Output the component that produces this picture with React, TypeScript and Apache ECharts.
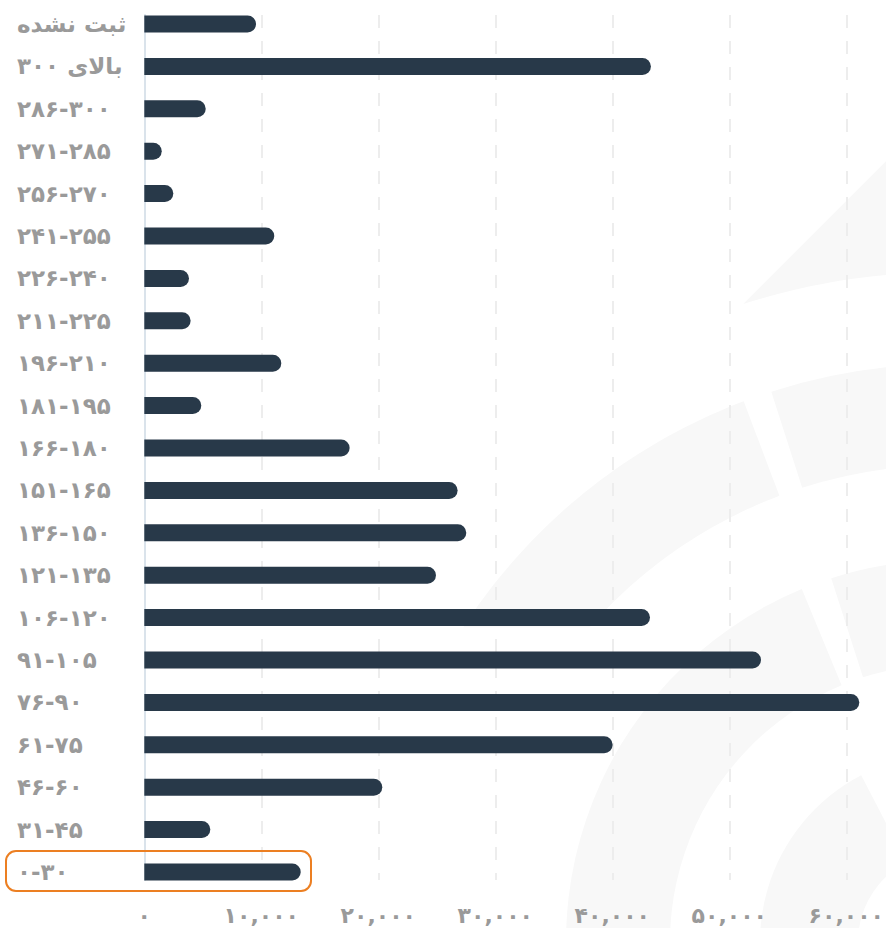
import React, { useEffect, useRef } from "react";
import * as echarts from "echarts";

const categories = [
  "ثبت نشده",
  "بالای ۳۰۰",
  "۲۸۶-۳۰۰",
  "۲۷۱-۲۸۵",
  "۲۵۶-۲۷۰",
  "۲۴۱-۲۵۵",
  "۲۲۶-۲۴۰",
  "۲۱۱-۲۲۵",
  "۱۹۶-۲۱۰",
  "۱۸۱-۱۹۵",
  "۱۶۶-۱۸۰",
  "۱۵۱-۱۶۵",
  "۱۳۶-۱۵۰",
  "۱۲۱-۱۳۵",
  "۱۰۶-۱۲۰",
  "۹۱-۱۰۵",
  "۷۶-۹۰",
  "۶۱-۷۵",
  "۴۶-۶۰",
  "۳۱-۴۵",
  "۰-۳۰",
];

const values = [
  9550, 43300, 5250, 1490, 2480, 11110, 3820, 3960, 11710, 4870, 17550, 26780,
  27520, 24930, 43220, 52710, 61110, 40030, 20340, 5640, 13370,
];

const xTickLabels = [
  "۰",
  "۱۰,۰۰۰",
  "۲۰,۰۰۰",
  "۳۰,۰۰۰",
  "۴۰,۰۰۰",
  "۵۰,۰۰۰",
  "۶۰,۰۰۰",
];

const FONT = "'DejaVu Sans', 'Noto Sans', sans-serif";
const BAR = "#283949";
const WM = "#f8f8f8";

function arcPts(cx: number, cy: number, r: number, a0: number, a1: number, n = 40) {
  const pts: number[][] = [];
  for (let i = 0; i <= n; i++) {
    const a = ((a0 + ((a1 - a0) * i) / n) * Math.PI) / 180;
    pts.push([cx + r * Math.cos(a), cy + r * Math.sin(a)]);
  }
  return pts;
}

function watermark() {
  const cx = 948;
  const cy = 942;
  const rad = (d: number) => (d * Math.PI) / 180;
  const gap = 252.2;
  const els: any[] = [];
  const tip = arcPts(cx, cy, 670, gap, gap, 1)[0];
  const b1 = arcPts(cx, cy, 670, gap, 278, 30);
  const far = 1040;
  b1.push([far, tip[1] - (far - tip[0])]);
  els.push({ type: "polygon", z: -10, silent: true, shape: { points: b1 }, style: { fill: WM } });
  const b2 = arcPts(cx, cy, 578, 213, 249.3, 40).concat(arcPts(cx, cy, 477, 249.3, 221.3, 40));
  els.push({ type: "polygon", z: -10, silent: true, shape: { points: b2 }, style: { fill: WM } });
  els.push({
    type: "sector", z: -10, silent: true,
    shape: { cx, cy, r: 578, r0: 477, startAngle: rad(gap), endAngle: rad(300), clockwise: true },
    style: { fill: WM },
  });
  els.push({
    type: "sector", z: -10, silent: true,
    shape: { cx, cy, r: 382, r0: 278, startAngle: rad(150), endAngle: rad(247.5), clockwise: true },
    style: { fill: WM },
  });
  els.push({
    type: "sector", z: -10, silent: true,
    shape: { cx, cy, r: 382, r0: 278, startAngle: rad(gap), endAngle: rad(320), clockwise: true },
    style: { fill: WM },
  });
  els.push({
    type: "sector", z: -10, silent: true,
    shape: { cx, cy, r: 188, r0: 90, startAngle: rad(150), endAngle: rad(242.5), clockwise: true },
    style: { fill: WM },
  });
  els.push({
    type: "sector", z: -10, silent: true,
    shape: { cx, cy, r: 188, r0: 90, startAngle: rad(gap), endAngle: rad(340), clockwise: true },
    style: { fill: WM },
  });
  return els;
}

export default function App() {
  const ref = useRef<HTMLDivElement>(null);

  useEffect(() => {
    document.body.style.margin = "0";
    if (!ref.current) return;
    const chart = echarts.init(ref.current, null, { renderer: "svg" });
    const left = 144.3;
    const width = 819; // 0..70,000 at 117px per 10,000 (last step runs off the page)
    chart.setOption({
      animation: false,
      backgroundColor: "#ffffff",
      grid: [
        { left, top: 15, width, height: 865, outerBoundsMode: "none", containLabel: false },
        { left, top: 2.8, width, height: 890.4, outerBoundsMode: "none", containLabel: false },
      ],
      xAxis: [
        {
          type: "value",
          gridIndex: 0,
          min: 0,
          max: 70000,
          interval: 10000,
          axisLine: { show: false },
          axisTick: { show: false },
          splitLine: {
            show: true,
            lineStyle: { color: "#ededed", width: 2, type: [13, 13] },
          },
          axisLabel: {
            margin: 24,
            color: "#9a9a9a",
            fontSize: 22,
            fontWeight: "bold",
            fontFamily: FONT,
            showMaxLabel: false,
            formatter: (v: number) => xTickLabels[Math.round(v / 10000)] ?? "",
          },
        },
        {
          type: "value",
          gridIndex: 1,
          min: 0,
          max: 70000,
          interval: 10000,
          show: false,
        },
      ],
      yAxis: [
        {
          type: "category",
          gridIndex: 0,
          data: categories,
          inverse: true,
          offset: 7.6,
          axisLine: { show: true, lineStyle: { color: "#dae3eb", width: 2 } },
          axisTick: { show: false },
          axisLabel: { show: false },
          splitLine: { show: false },
        },
        {
          type: "category",
          gridIndex: 1,
          data: categories,
          inverse: true,
          axisLine: { show: false },
          axisTick: { show: false },
          splitLine: { show: false },
          axisLabel: {
            align: "left",
            margin: 127.3,
            color: "#9a9a9a",
            fontSize: 23,
            fontWeight: "bold",
            fontFamily: FONT,
          },
        },
      ],
      series: [
        {
          type: "bar",
          xAxisIndex: 1,
          yAxisIndex: 1,
          data: values,
          barWidth: 17,
          itemStyle: { color: BAR, borderRadius: [0, 8.5, 8.5, 0] },
        },
      ],
      graphic: [
        ...watermark(),
        {
          type: "rect",
          z: 10,
          silent: true,
          shape: { x: 6, y: 851, width: 305, height: 40, r: 10 },
          style: { fill: "none", stroke: "#ec7f22", lineWidth: 2 },
        },
      ],
    });
    return () => chart.dispose();
  }, []);

  return <div ref={ref} style={{ width: 886, height: 928 }} />;
}
